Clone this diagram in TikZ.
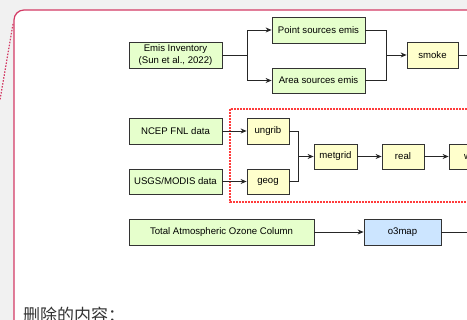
\documentclass[tikz,border=0pt]{standalone}
\usepackage{fontspec}
\setmainfont{Liberation Sans}
\newfontfamily\cjk{Noto Sans CJK SC}
\usetikzlibrary{arrows.meta}

\definecolor{pagegray}{HTML}{F1F1F1}
\definecolor{framered}{HTML}{D33A64}
\definecolor{dotred}{HTML}{FF3B3B}
\definecolor{inputgreen}{HTML}{E6FFCC}
\definecolor{stepyellow}{HTML}{FFFFCC}
\definecolor{mapblue}{HTML}{CCE5FF}

\tikzset{
  box/.style={draw=black!80, line width=0.8pt, rectangle, minimum height=26pt,
    inner sep=1pt, align=center, font=\fontsize{9.6}{12}\selectfont},
  inbox/.style={box, fill=inputgreen},
  procbox/.style={box, fill=stepyellow},
  link/.style={line width=0.8pt, black!85},
  arrow/.style={link, -{Stealth[length=6pt,width=5pt]}}
}

\begin{document}
\begin{tikzpicture}[x=1pt, y=-1pt]
		% page and frame
		\useasboundingbox (0,0) rectangle (467,320);
		\clip (0,0) rectangle (467,320);
		\fill[pagegray] (0,0) rectangle (467,320);
		\draw[draw=framered, fill=white, rounded corners=10pt, line width=1.2pt] (14,10) rectangle (520,360);
		\draw[draw=framered, line width=1.2pt, dash pattern=on 1.5pt off 1.5pt] (13,24) -- (0,100);
		% emissions
		\node[inbox, minimum width=93pt] (emis) at (175.5,55) {Emis Inventory\\(Sun et al., 2022)};
		\node[inbox, minimum width=93pt] (point) at (318.5,30) {Point sources emis};
		\node[inbox, minimum width=93pt, minimum height=25pt] (area) at (318.5,80.5) {Area sources emis};
		\node[procbox, minimum width=51pt] (smoke) at (432.5,55) {smoke};
		\coordinate (split1) at (247,55);
		\coordinate (join1) at (386,55);
		\coordinate (out1) at (480,55);
		\draw[link] (emis.east) -- (split1);
		\draw[arrow] (split1) |- (point.west);
		\draw[arrow] (split1) |- (area.west);
		\draw[link] (point.east) -| (join1);
		\draw[link] (area.east) -| (join1);
		\draw[arrow] (join1) -- (smoke.west);
		\draw[link] (smoke.east) -- (out1);
		% WPS and WRF
		\draw[draw=dotred, line width=1.6pt, dash pattern=on 1.6pt off 1.4pt] (230,109) rectangle (500,202);
		\node[inbox, minimum width=93pt] (ncep) at (175.5,131) {NCEP FNL data};
		\node[inbox, minimum width=93pt, minimum height=25pt] (usgs) at (175.5,181.5) {USGS/MODIS data};
		\node[procbox, minimum width=42pt] (ungrib) at (268,131) {ungrib};
		\node[procbox, minimum width=42pt, minimum height=25pt] (geog) at (268,181.5) {geog};
		\node[procbox, minimum width=43pt, minimum height=25pt] (metgrid) at (335.5,156.5) {metgrid};
		\node[procbox, minimum width=42pt, minimum height=25pt] (real) at (403,156.5) {real};
		\node[procbox, minimum width=43pt, minimum height=25pt] (wrf) at (470.5,156.5) {wrf};
		\coordinate (join2) at (298,156.5);
		\draw[arrow] (ncep) -- (ungrib);
		\draw[arrow] (usgs) -- (geog);
		\draw[link] (ungrib.east) -| (join2);
		\draw[link] (geog.east) -| (join2);
		\draw[arrow] (join2) -- (metgrid);
		\draw[arrow] (metgrid) -- (real);
		\draw[arrow] (real) -- (wrf);
		% ozone
		\node[inbox, minimum width=185pt] (ozone) at (221.5,232) {Total Atmospheric Ozone Column};
		\node[box, fill=mapblue, minimum width=77pt] (o3map) at (402.5,232) {o3map};
		\coordinate (out3) at (480,232);
		\draw[arrow] (ozone) -- (o3map);
		\draw[link] (o3map.east) -- (out3);
		% note
		\node[anchor=base west, inner sep=0pt, text=black!80, font=\cjk\fontsize{17}{17}\selectfont] (note) at (23,322) {删除的内容：};
	\end{tikzpicture}
\end{document}
